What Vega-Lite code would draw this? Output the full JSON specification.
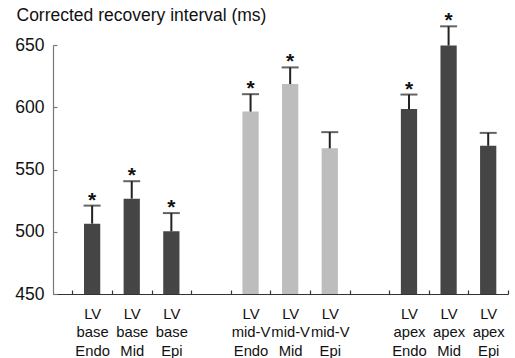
{
  "$schema": "https://vega.github.io/schema/vega-lite/v6.json",
  "autosize": "none",
  "width": 455,
  "height": 249,
  "padding": {"left": 53, "top": 45, "right": 7, "bottom": 64},
  "background": "white",
  "config": {"view": {"stroke": null}, "font": "Liberation Sans"},
  "data": {
    "values": [
      {"cat": "LV|base|Endo", "region": "base", "mean": 506.5, "upper": 521, "sig": "*"},
      {"cat": "LV|base|Mid", "region": "base", "mean": 526.6, "upper": 540.6, "sig": "*"},
      {"cat": "LV|base|Epi", "region": "base", "mean": 500.4, "upper": 515, "sig": "*"},
      {"cat": "LV|mid-V|Endo", "region": "mid", "mean": 596.5, "upper": 610.5, "sig": "*"},
      {"cat": "LV|mid-V|Mid", "region": "mid", "mean": 618.6, "upper": 632, "sig": "*"},
      {"cat": "LV|mid-V|Epi", "region": "mid", "mean": 567, "upper": 580, "sig": ""},
      {"cat": "LV|apex|Endo", "region": "apex", "mean": 598.5, "upper": 610.2, "sig": "*"},
      {"cat": "LV|apex|Mid", "region": "apex", "mean": 649.6, "upper": 665, "sig": "*"},
      {"cat": "LV|apex|Epi", "region": "apex", "mean": 569, "upper": 579.4, "sig": ""}
    ]
  },
  "encoding": {
    "x": {
      "field": "cat",
      "type": "nominal",
      "sort": null,
      "scale": {
        "domain": ["LV|base|Endo", "LV|base|Mid", "LV|base|Epi", "gap1", "LV|mid-V|Endo", "LV|mid-V|Mid", "LV|mid-V|Epi", "gap2", "LV|apex|Endo", "LV|apex|Mid", "LV|apex|Epi"],
        "paddingInner": 0,
        "paddingOuter": 0.244,
        "align": 1
      },
      "axis": {
        "title": null,
        "labelAngle": 0,
        "labelExpr": "indexof(datum.label, '|') < 0 ? '' : split(datum.label, '|')",
        "labelFontSize": 14.8,
        "labelLineHeight": 18.5,
        "labelColor": "#111",
        "labelBaseline": "top",
        "labelPadding": 16,
        "tickBand": "extent",
        "tickSize": -4,
        "tickColor": "#333",
        "domainColor": "#333",
        "domainWidth": 1.2,
        "tickWidth": 1.2
      }
    }
  },
  "layer": [
    {
      "mark": {"type": "bar", "width": {"band": 0.41}},
      "encoding": {
        "y": {
          "field": "mean",
          "type": "quantitative",
          "scale": {"domain": [450, 650], "zero": false, "nice": false},
          "axis": {
            "values": [450, 500, 550, 600, 650],
            "title": "Corrected recovery interval (ms)",
            "titleAngle": 0,
            "titleAlign": "left",
            "titleBaseline": "alphabetic",
            "titleX": -37,
            "titleY": -25,
            "titleFontSize": 17.5,
            "titleFontWeight": "normal",
            "titleColor": "#111",
            "labelFontSize": 17.5,
            "labelColor": "#111",
            "labelPadding": 13,
            "tickSize": -4,
            "tickColor": "#777",
            "domainColor": "#777",
            "domainWidth": 1.2,
            "tickWidth": 1.2,
            "grid": false
          }
        },
        "y2": {"datum": 450},
        "color": {
          "field": "region",
          "type": "nominal",
          "scale": {"domain": ["base", "mid", "apex"], "range": ["#454545", "#bdbdbd", "#454545"]},
          "legend": null
        }
      }
    },
    {
      "mark": {"type": "rule", "color": "#222", "strokeWidth": 2},
      "encoding": {
        "y": {"field": "mean", "type": "quantitative"},
        "y2": {"field": "upper"}
      }
    },
    {
      "mark": {"type": "tick", "color": "#222", "thickness": 2, "size": 17, "orient": "horizontal"},
      "encoding": {
        "y": {"field": "upper", "type": "quantitative"}
      }
    },
    {
      "mark": {"type": "text", "fontSize": 21, "fontWeight": "bold", "baseline": "alphabetic", "dy": 1, "color": "#111"},
      "encoding": {
        "y": {"field": "upper", "type": "quantitative"},
        "text": {"field": "sig"}
      }
    }
  ]
}
